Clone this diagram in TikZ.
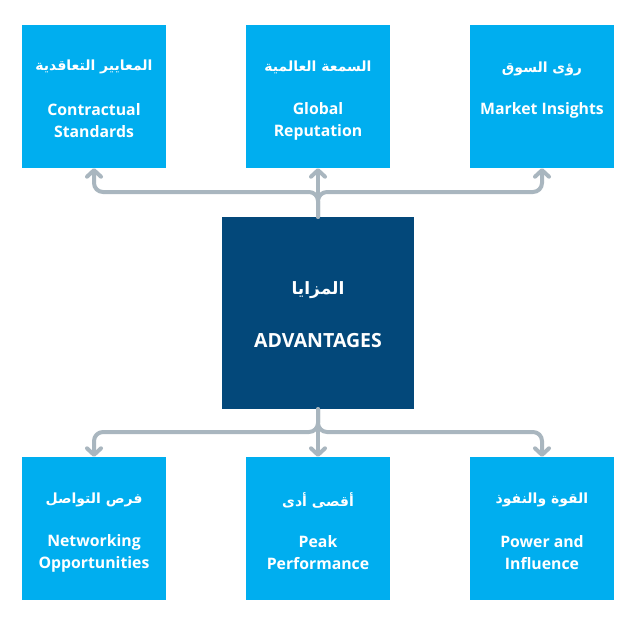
\documentclass[tikz,border=0pt]{standalone}
\usepackage{fontspec}
\setmainfont{Open Sans}
\newfontfamily\arabicfont[Script=Arabic]{DejaVu Sans}
\TeXXeTstate=1
\usetikzlibrary{arrows.meta}
\definecolor{lightblu}{HTML}{00AEEF}
\definecolor{darkblu}{HTML}{03487A}
\definecolor{conngray}{HTML}{A9B6BF}
\tikzset{
  smallbox/.style={fill=lightblu, draw=none, minimum width=144pt, minimum height=143pt, inner sep=0pt},
  bigbox/.style={fill=darkblu, draw=none, minimum width=192pt, minimum height=192pt, inner sep=0pt},
  artext/.style={text=white, font=\arabicfont\bfseries\fontsize{14}{16}\selectfont, inner sep=0pt},
  entext/.style={text=white, font=\bfseries\fontsize{15.8}{22}\selectfont, align=center, inner sep=0pt},
  conn/.style={draw=conngray, line width=4pt, rounded corners=9pt, line cap=round, line join=round,
    -{Straight Barb[length=6.5pt,width=14pt,line cap=round,line join=round]}}
}
\begin{document}
\begin{tikzpicture}[x=1pt,y=-1pt]
\useasboundingbox[fill=white] (0,0) rectangle (639,624);
% boxes
\node[smallbox] (t1) at (94,96.5) {};
\node[smallbox] (t2) at (318,96.5) {};
\node[smallbox] (t3) at (542,96.5) {};
\node[smallbox] (b1) at (94,528.5) {};
\node[smallbox] (b2) at (318,528.5) {};
\node[smallbox] (b3) at (542,528.5) {};
\node[bigbox] (c) at (318,313) {};
% junctions
\coordinate (jt) at (318,192);
\coordinate (jb) at (318,432);
% connectors
\draw[conn] (c.north) -- (jt) -| (t1.south);
\draw[conn] (c.north) -- (jt) -| (t3.south);
\draw[conn] (c.north) -- (t2.south);
\draw[conn] (c.south) -- (jb) -| (b1.north);
\draw[conn] (c.south) -- (jb) -| (b3.north);
\draw[conn] (c.south) -- (b2.north);
% texts top
\node[artext] (t1a) at (94,67) {\beginR المعايير التعاقدية\endR};
\node[entext] (t1e) at (94,121) {Contractual\\Standards};
\node[artext] (t2a) at (318,67) {\beginR السمعة العالمية\endR};
\node[entext] (t2e) at (318,121.5) {Global\\Reputation};
\node[artext] (t3a) at (542,69) {\beginR رؤى السوق\endR};
\node[entext] (t3e) at (542,110.5) {Market Insights};
% center
\node[artext, font=\arabicfont\bfseries\fontsize{17}{20}\selectfont] (ca) at (318,290) {\beginR المزايا\endR};
\node[entext, font=\bfseries\fontsize{19.5}{22}\selectfont] (ce) at (318,341) {ADVANTAGES};
% bottom
\node[artext] (b1a) at (94,500) {\beginR فرص التواصل\endR};
\node[entext] (b1e) at (94,553.5) {Networking\\Opportunities};
\node[artext] (b2a) at (318,500) {\beginR أقصى أدى\endR};
\node[entext] (b2e) at (318,553) {Peak\\Performance};
\node[artext] (b3a) at (542,500) {\beginR القوة والنفوذ\endR};
\node[entext] (b3e) at (542,552.5) {Power and\\Influence};
\end{tikzpicture}
\end{document}
